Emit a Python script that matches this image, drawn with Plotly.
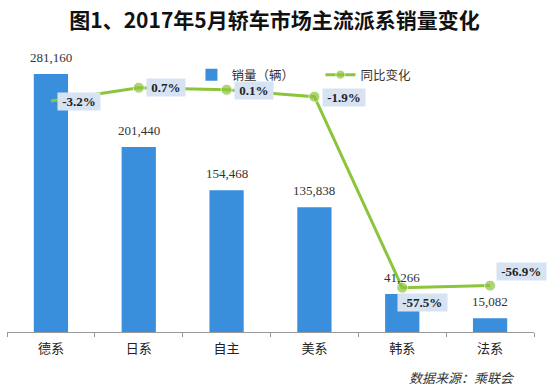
import plotly.graph_objects as go

categories = ["德系", "日系", "自主", "美系", "韩系", "法系"]
sales = [281160, 201440, 154468, 135838, 41266, 15082]
yoy = [-3.2, 0.7, 0.1, -1.9, -57.5, -56.9]
yoy_labels = ["-3.2%", "0.7%", "0.1%", "-1.9%", "-57.5%", "-56.9%"]
# label offsets (px) for the YoY boxes
yoy_shift_x = [28, 27, 27, 30, 20, 31]
yoy_shift_y = [0, 0, -1, -1, -15, 14]
marker_sizes = [0, 11, 11, 11, 11, 11]

BAR_COLOR = "#3a8fdc"
LINE_COLOR = "#8cc43c"
CJK = "Noto Sans CJK SC"
SERIF = "Liberation Serif"

fig = go.Figure()
fig.add_trace(go.Bar(
    x=categories, y=sales, name="销量（辆）",
    marker=dict(color=BAR_COLOR, line=dict(width=0)),
    width=0.39, yaxis="y",
))
fig.add_trace(go.Scatter(
    x=categories, y=yoy, name="同比变化", yaxis="y2",
    mode="lines+markers",
    line=dict(color=LINE_COLOR, width=3),
    marker=dict(color=LINE_COLOR, size=marker_sizes),
))

annotations = []
for c, v in zip(categories, sales):
    annotations.append(dict(
        x=c, y=v, xref="x", yref="y", text=f"{v:,}", showarrow=False,
        yanchor="bottom", yshift=7,
        font=dict(family=SERIF, size=13, color="#333333"),
    ))
for c, v, t, sx, sy in zip(categories, yoy, yoy_labels, yoy_shift_x, yoy_shift_y):
    annotations.append(dict(
        x=c, y=v, xref="x", yref="y2", text=f"<b>&nbsp;{t}&nbsp;</b>", showarrow=False,
        xshift=sx, yshift=sy, bgcolor="#d7e3f2", borderpad=1,
        font=dict(family=SERIF, size=13, color="#222222"),
    ))
annotations.append(dict(
    x=0.968, y=-0.163, xref="paper", yref="paper", xanchor="right", yanchor="middle",
    text="数据来源：乘联会", showarrow=False,
    font=dict(family=CJK, size=13, color="#333333", style="italic"),
))

fig.update_layout(
    width=549, height=388,
    margin=dict(l=7, r=15, t=50, b=56),
    paper_bgcolor="white", plot_bgcolor="white",
    title=dict(
        text="<b>图1、2017年5月轿车市场主流派系销量变化</b>",
        x=0.5, xanchor="center", xref="container",
        y=1 - 20.5 / 388, yanchor="middle", yref="container",
        font=dict(family=CJK, size=21, color="#111111"),
    ),
    xaxis=dict(
        range=[-0.5, len(categories) - 0.5],
        showline=True, linecolor="#999999", linewidth=1,
        ticks="outside", tickson="boundaries", ticklen=4, tickcolor="#999999",
        tickfont=dict(family=CJK, size=13, color="#222222"),
        ticklabelstandoff=4,
        showgrid=False, zeroline=False,
    ),
    yaxis=dict(range=[0, 307190], visible=False, showgrid=False, zeroline=False),
    yaxis2=dict(range=[-70.4, 11.67], overlaying="y", side="right",
                visible=False, showgrid=False, zeroline=False),
    legend=dict(
        orientation="h", x=0.350, xanchor="left", y=(332 - 75) / 282, yanchor="middle",
        font=dict(family=CJK, size=12.5, color="#333333"),
        bgcolor="rgba(0,0,0,0)", traceorder="normal",
        entrywidth=84, entrywidthmode="pixels",
    ),
    annotations=annotations,
    showlegend=True,
    bargap=0.6,
)

fig.write_html(
    "out.html",
    config={"displayModeBar": False},
    post_script="document.body.style.margin='0px';document.body.style.overflow='hidden';",
)
